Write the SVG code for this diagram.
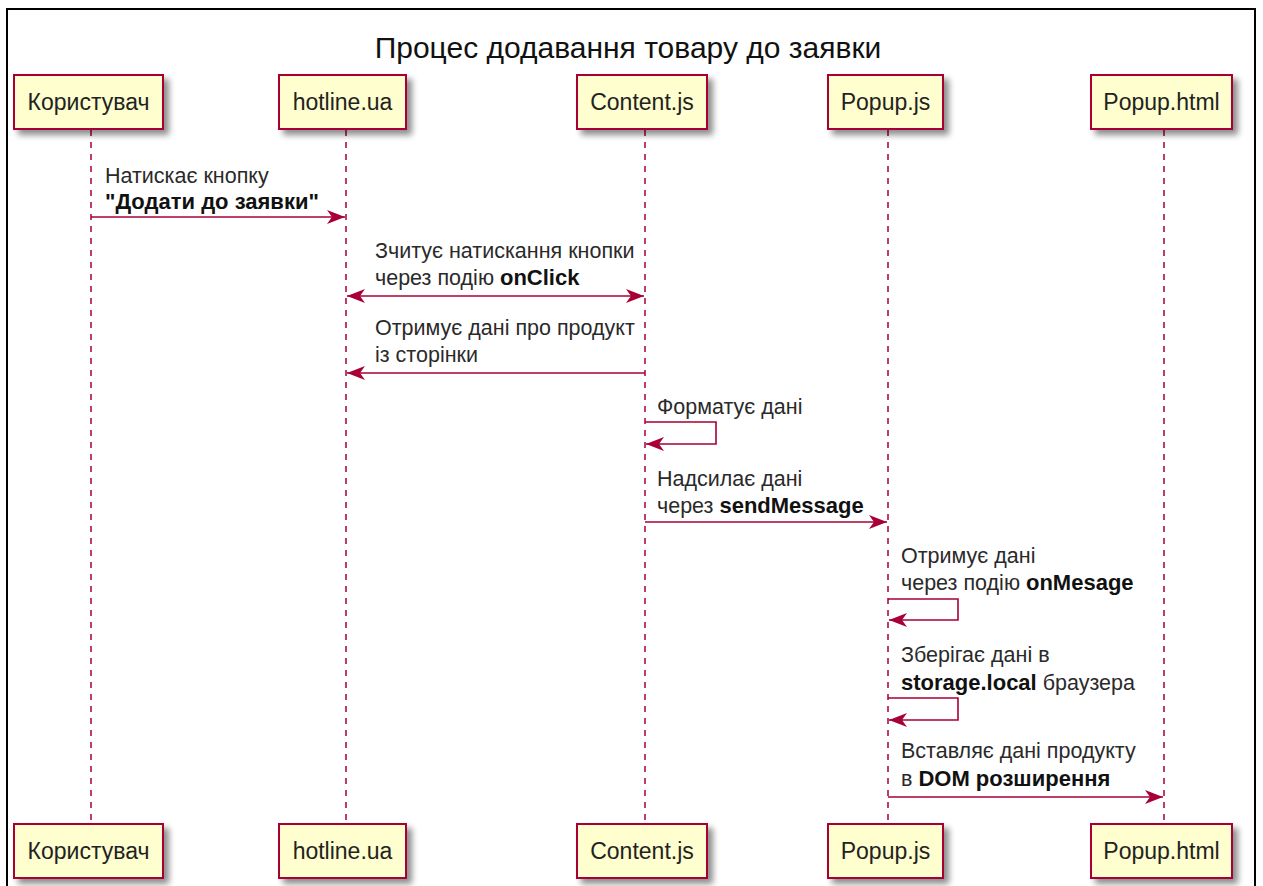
<svg xmlns="http://www.w3.org/2000/svg" width="1263" height="886" viewBox="0 0 1263 886">
<defs>
<filter id="sh" x="-20%" y="-20%" width="150%" height="160%">
<feGaussianBlur in="SourceAlpha" stdDeviation="3"/>
<feOffset dx="5" dy="5" result="b"/>
<feComponentTransfer><feFuncA type="linear" slope="0.45"/></feComponentTransfer>
<feMerge><feMergeNode/><feMergeNode in="SourceGraphic"/></feMerge>
</filter>
<marker id="ah" viewBox="0 0 18 14" refX="18" refY="7" markerWidth="18" markerHeight="14" markerUnits="userSpaceOnUse" orient="auto-start-reverse">
<polygon points="0,0 18,7 0,14 5,7" fill="#A80036"/>
</marker>
</defs>
<style>
.box{fill:#FEFECE;stroke:#A80036;stroke-width:2}
.pt{font-family:"Liberation Sans",Arial,sans-serif;font-size:23px;fill:#222;text-anchor:middle}
.life{stroke:#A80036;stroke-width:1.5;stroke-dasharray:6,6;fill:none}
.msg{stroke:#A80036;stroke-width:1.6;fill:none}
.mt{font-family:"Liberation Sans",Arial,sans-serif;font-size:21.5px;fill:#2a2a2a}
.b{font-weight:bold;fill:#111;font-size:22px}
.title{font-family:"Liberation Sans",Arial,sans-serif;font-size:30px;fill:#111;text-anchor:middle}
</style>
<rect x="0" y="0" width="1263" height="886" fill="#fff"/>
<rect x="7" y="9" width="1248" height="890" fill="none" stroke="#000" stroke-width="2"/>
<text class="title" x="628" y="58">Процес додавання товару до заявки</text>

<g id="lifelines">
<line class="life" x1="91" y1="130" x2="91" y2="824"/>
<line class="life" x1="346" y1="130" x2="346" y2="824"/>
<line class="life" x1="645" y1="130" x2="645" y2="824"/>
<line class="life" x1="888" y1="130" x2="888" y2="824"/>
<line class="life" x1="1164" y1="130" x2="1164" y2="824"/>
</g>

<g id="p-user">
<rect class="box" x="14" y="75" width="149" height="54" filter="url(#sh)"/>
<text class="pt" x="88.5" y="110">Користувач</text>
<rect class="box" x="14" y="824" width="149" height="54" filter="url(#sh)"/>
<text class="pt" x="88.5" y="859">Користувач</text>
</g>
<g id="p-hotline">
<rect class="box" x="279" y="75" width="127" height="54" filter="url(#sh)"/>
<text class="pt" x="342.5" y="110">hotline.ua</text>
<rect class="box" x="279" y="824" width="127" height="54" filter="url(#sh)"/>
<text class="pt" x="342.5" y="859">hotline.ua</text>
</g>
<g id="p-content">
<rect class="box" x="577" y="75" width="130" height="54" filter="url(#sh)"/>
<text class="pt" x="642" y="110">Content.js</text>
<rect class="box" x="577" y="824" width="130" height="54" filter="url(#sh)"/>
<text class="pt" x="642" y="859">Content.js</text>
</g>
<g id="p-popupjs">
<rect class="box" x="828" y="75" width="115" height="54" filter="url(#sh)"/>
<text class="pt" x="885.5" y="110">Popup.js</text>
<rect class="box" x="828" y="824" width="115" height="54" filter="url(#sh)"/>
<text class="pt" x="885.5" y="859">Popup.js</text>
</g>
<g id="p-popuphtml">
<rect class="box" x="1091" y="75" width="141" height="54" filter="url(#sh)"/>
<text class="pt" x="1161.5" y="110">Popup.html</text>
<rect class="box" x="1091" y="824" width="141" height="54" filter="url(#sh)"/>
<text class="pt" x="1161.5" y="859">Popup.html</text>
</g>

<g id="connectors">
<line class="msg" x1="91" y1="217" x2="345" y2="217" marker-end="url(#ah)"/>
<line class="msg" x1="347" y1="296" x2="644" y2="296" marker-start="url(#ah)" marker-end="url(#ah)"/>
<line class="msg" x1="645" y1="373" x2="347" y2="373" marker-end="url(#ah)"/>
<polyline class="msg" points="645,422 716,422 716,444 646,444" marker-end="url(#ah)"/>
<line class="msg" x1="645" y1="522" x2="887" y2="522" marker-end="url(#ah)"/>
<polyline class="msg" points="888,599 958,599 958,620 889,620" marker-end="url(#ah)"/>
<polyline class="msg" points="888,698 958,698 958,720 889,720" marker-end="url(#ah)"/>
<line class="msg" x1="888" y1="797" x2="1163" y2="797" marker-end="url(#ah)"/>
</g>

<g id="labels">
<text class="mt" x="105" y="183">Натискає кнопку</text>
<text class="mt b" x="105" y="209">"Додати до заявки"</text>
<text class="mt" x="375" y="258">Зчитує натискання кнопки</text>
<text class="mt" x="375" y="285">через подію <tspan class="b">onClick</tspan></text>
<text class="mt" x="375" y="335">Отримує дані про продукт</text>
<text class="mt" x="375" y="362">із сторінки</text>
<text class="mt" x="657" y="414">Форматує дані</text>
<text class="mt" x="657" y="486">Надсилає дані</text>
<text class="mt" x="657" y="513">через <tspan class="b">sendMessage</tspan></text>
<text class="mt" x="901" y="563">Отримує дані</text>
<text class="mt" x="901" y="590">через подію <tspan class="b">onMesage</tspan></text>
<text class="mt" x="901" y="662">Зберігає дані в</text>
<text class="mt" x="901" y="690"><tspan class="b">storage.local</tspan> браузера</text>
<text class="mt" x="901" y="758">Вставляє дані продукту</text>
<text class="mt" x="901" y="786">в <tspan class="b">DOM розширення</tspan></text>
</g>
</svg>
